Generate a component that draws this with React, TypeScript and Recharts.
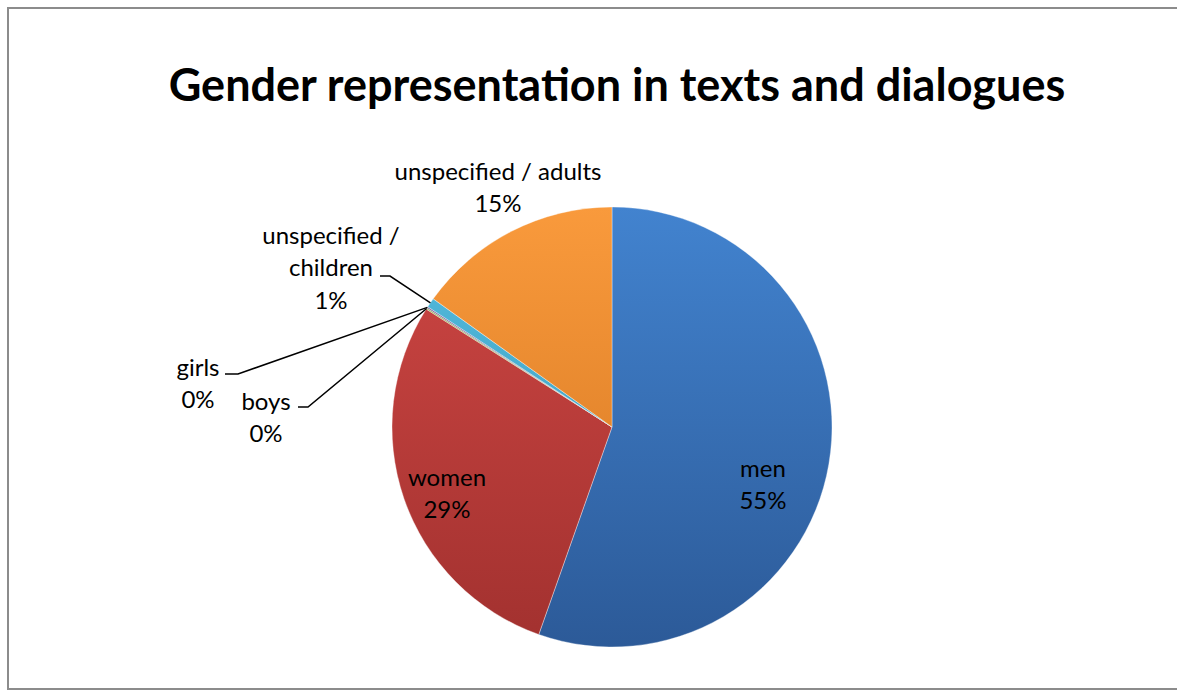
import React from 'react';
import { PieChart, Pie, Cell } from 'recharts';

// categories in drawing order, clockwise from 12 o'clock
const categories = ['men', 'women', 'boys', 'girls', 'unspecified /\nchildren', 'unspecified / adults'];
// share of mentions (%)
const shares = [55.4, 28.6, 0.1, 0.1, 0.7, 15.1];

const colors = [
  ['#4283cf', '#2c5a98'],
  ['#cf4744', '#a2312f'],
  ['#9bbb59', '#7a9a3f'],
  ['#8064a2', '#634a82'],
  ['#55bde0', '#3595b5'],
  ['#f99a3c', '#d2741f'],
];

// label placement relative to the pie centre; elbow = [x start, x end, y] of the leader line
const labelLayout: { dx: number; dy: number; elbow?: [number, number, number] }[] = [
  { dx: 151, dy: 40 },
  { dx: -165, dy: 49 },
  { dx: -346, dy: -27, elbow: [-314, -304, -20] },
  { dx: -414, dy: -61, elbow: [-387, -374, -53] },
  { dx: -281, dy: -193, elbow: [-232, -222, -151] },
  { dx: -114, dy: -257 },
];

const RAD = Math.PI / 180;
const LINE = 32.5;

function renderLabel(props: any) {
  const { cx, cy, midAngle, outerRadius, percent, index } = props;
  const lay = labelLayout[index];
  const lines = categories[index].split('\n').concat(`${Math.round(percent * 100)}%`);
  const x = cx + lay.dx;
  const y0 = cy + lay.dy;
  let leader = null;
  if (lay.elbow) {
    const [x1, x2, ly] = lay.elbow;
    const px = cx + Math.cos(-midAngle * RAD) * outerRadius;
    const py = cy + Math.sin(-midAngle * RAD) * outerRadius;
    leader = (
      <polyline
        points={`${cx + x1},${cy + ly} ${cx + x2},${cy + ly} ${px},${py}`}
        fill="none"
        stroke="#000"
        strokeWidth={1.5}
      />
    );
  }
  return (
    <g key={`lbl-${index}`}>
      {leader}
      <text x={x} y={y0} textAnchor="middle" fill="#000" fontSize={24} fontFamily="Lato, sans-serif">
        {lines.map((t, i) => (
          <tspan key={i} x={x} y={y0 + i * LINE} dominantBaseline="central">
            {t}
          </tspan>
        ))}
      </text>
    </g>
  );
}

export default function App() {
  const data = categories.map((c, i) => ({ name: c, value: shares[i] }));
  return (
    <div
      style={{
        position: 'absolute',
        left: 0,
        top: 0,
        width: 1177,
        height: 691,
        overflow: 'hidden',
        background: '#fff',
        fontFamily: 'Lato, sans-serif',
      }}
    >
      <div
        style={{
          position: 'absolute',
          left: 7,
          top: 7,
          width: 1200,
          height: 679,
          border: '2px solid #8c8c8c',
        }}
      />
      <div
        style={{
          position: 'absolute',
          left: 117,
          top: 59,
          width: 1000,
          textAlign: 'center',
          fontSize: 45,
          lineHeight: '50px',
          fontWeight: 700,
          color: '#000',
          whiteSpace: 'nowrap',
        }}
      >
        Gender representation in texts and dialogues
      </div>
      <PieChart
        width={1177}
        height={691}
        margin={{ top: 0, right: 0, bottom: 0, left: 0 }}
        style={{ position: 'absolute', left: 0, top: 0 }}
      >
        <defs>
          {colors.map(([a, b], i) => (
            <linearGradient
              key={i}
              id={`g${i}`}
              x1="0"
              y1="207"
              x2="0"
              y2="647"
              gradientUnits="userSpaceOnUse"
            >
              <stop offset="0%" stopColor={a} />
              <stop offset="100%" stopColor={b} />
            </linearGradient>
          ))}
        </defs>
        <Pie
          data={data}
          dataKey="value"
          nameKey="name"
          cx={612}
          cy={427}
          outerRadius={220}
          startAngle={90}
          endAngle={-270}
          stroke="rgba(255,255,255,0.35)"
          strokeWidth={1}
          label={renderLabel}
          labelLine={false}
          isAnimationActive={false}
        >
          {data.map((d, i) => (
            <Cell key={d.name} fill={`url(#g${i})`} />
          ))}
        </Pie>
      </PieChart>
    </div>
  );
}
